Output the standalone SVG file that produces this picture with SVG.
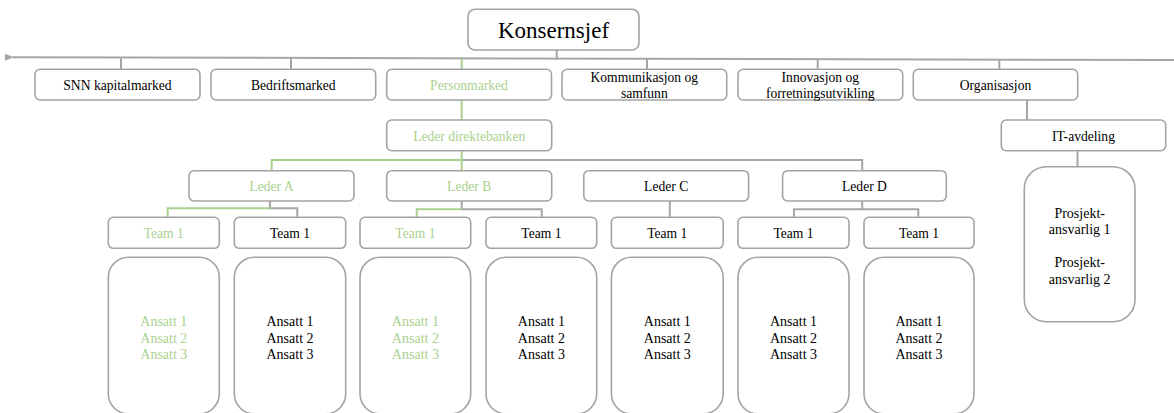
<svg xmlns="http://www.w3.org/2000/svg" width="1174" height="413" viewBox="0 0 1174 413" font-family="'Liberation Serif', Tinos, 'Times New Roman', 'DejaVu Serif', serif">
<defs>
<style>
.box{fill:#fff;stroke:#a3a3a3;stroke-width:1.6}
.t{font-family:'Liberation Serif', Tinos, 'Times New Roman', 'DejaVu Serif', serif;font-size:13.6px;fill:#000;text-anchor:middle}
.a{font-size:14px}
.g{fill:#a9d18e}
.big{font-size:23px}
.c{fill:none;stroke:#a6a6a6;stroke-width:2}
.cg{fill:none;stroke:#a9d18e;stroke-width:2}
</style>
<marker id="arr" markerWidth="10" markerHeight="8" refX="1" refY="4" orient="auto" markerUnits="userSpaceOnUse">
<path d="M0,4 L9,0.5 L9,7.5 Z" fill="#a6a6a6"/>
</marker>
</defs>
<rect width="1174" height="413" fill="#fff"/>
<g id="connectors">
<line class="c" x1="1174" y1="60" x2="13" y2="57.3" marker-end="url(#arr)"/>
<line class="c" x1="556.7" y1="50" x2="556.7" y2="60"/>
<line class="c" x1="121" y1="57.5" x2="121" y2="69.3"/>
<line class="c" x1="291" y1="58" x2="291" y2="69.3"/>
<line class="cg" x1="461.7" y1="58.5" x2="461.7" y2="69.3"/>
<line class="c" x1="647" y1="58.8" x2="647" y2="69.3"/>
<line class="c" x1="817.7" y1="59.2" x2="817.7" y2="69.3"/>
<line class="c" x1="999.3" y1="59.6" x2="999.3" y2="69.3"/>
<line class="cg" x1="461.7" y1="100" x2="461.7" y2="120"/>
<line class="c" x1="1027" y1="100" x2="1027" y2="120"/>
<line class="c" x1="1077.5" y1="150.7" x2="1077.5" y2="166.7"/>
<path class="c" d="M461.7,160 H862.2 V170.7"/>
<path class="cg" d="M461.7,150.7 V170.7 M461.7,160 H271.7 V170.7"/>
<path class="c" d="M270,201 V208.3 H297.3 V217.3"/>
<path class="cg" d="M270,208.3 H167.7 V217.3"/>
<path class="c" d="M461.7,201 V209.3 H541.7 V217.3"/>
<path class="cg" d="M461.7,209.3 H416.7 V217.3"/>
<line class="c" x1="669.8" y1="201" x2="669.8" y2="217.3"/>
<path class="c" d="M862.2,201 V209.3 M794,217.3 V209.3 H918.3 V217.3"/>
</g>
<g id="konsernsjef"><rect class="box" x="468" y="9.3" width="171" height="40.7" rx="7"/><text class="t big" x="553.5" y="38">Konsernsjef</text></g>
<g id="snn"><rect class="box" x="35" y="69.3" width="165" height="30.7" rx="5"/><text class="t" x="117.5" y="90">SNN kapitalmarked</text></g>
<g id="bedrift"><rect class="box" x="211" y="69.3" width="164.7" height="30.7" rx="5"/><text class="t" x="293.3" y="90">Bedriftsmarked</text></g>
<g id="person"><rect class="box" x="386.7" y="69.3" width="164.8" height="30.7" rx="5"/><text class="t g" x="469" y="90">Personmarked</text></g>
<g id="kommunikasjon"><rect class="box" x="562" y="69.3" width="164.7" height="30.7" rx="5"/><text class="t" x="644.3" y="82.3">Kommunikasjon og</text><text class="t" x="644.3" y="98.3">samfunn</text></g>
<g id="innovasjon"><rect class="box" x="738" y="69.3" width="164.7" height="30.7" rx="5"/><text class="t" x="820.3" y="82.3">Innovasjon og</text><text class="t" x="820.3" y="98.3">forretningsutvikling</text></g>
<g id="organisasjon"><rect class="box" x="913.3" y="69.3" width="164.4" height="30.7" rx="5"/><text class="t" x="995.5" y="90">Organisasjon</text></g>
<g id="leder-direktebanken"><rect class="box" x="386.7" y="120" width="165" height="30.7" rx="5"/><text class="t g" x="469.2" y="140.5">Leder direktebanken</text></g>
<g id="it-avdeling"><rect class="box" x="1001.3" y="120" width="164.4" height="30.7" rx="5"/><text class="t" x="1083.5" y="140.5">IT-avdeling</text></g>
<g id="prosjekt"><rect class="box" x="1024.3" y="166.7" width="110.7" height="155" rx="22"/>
<text class="t a" x="1079.7" y="218">Prosjekt-</text><text class="t a" x="1079.7" y="234">ansvarlig 1</text>
<text class="t a" x="1079.7" y="267">Prosjekt-</text><text class="t a" x="1079.7" y="283.5">ansvarlig 2</text></g>
<g id="leder-a"><rect class="box" x="189" y="170.7" width="165" height="30.3" rx="5"/><text class="t g" x="271.5" y="190.7">Leder A</text></g>
<g id="leder-b"><rect class="box" x="386.7" y="170.7" width="165" height="30.3" rx="5"/><text class="t g" x="469.2" y="190.7">Leder B</text></g>
<g id="leder-c"><rect class="box" x="583.8" y="170.7" width="164.8" height="30.3" rx="5"/><text class="t" x="666.2" y="190.7">Leder C</text></g>
<g id="leder-d"><rect class="box" x="782.6" y="170.7" width="163.7" height="30.3" rx="5"/><text class="t" x="864.5" y="190.7">Leder D</text></g>
<g id="team-a1"><rect class="box" x="108.3" y="217.3" width="111" height="31" rx="5"/><text class="t g" x="163.8" y="237.8">Team 1</text></g>
<g id="team-a2"><rect class="box" x="234.3" y="217.3" width="111.4" height="31" rx="5"/><text class="t" x="290" y="237.8">Team 1</text></g>
<g id="team-b1"><rect class="box" x="360" y="217.3" width="110.7" height="31" rx="5"/><text class="t g" x="415.4" y="237.8">Team 1</text></g>
<g id="team-b2"><rect class="box" x="486" y="217.3" width="110.7" height="31" rx="5"/><text class="t" x="541.4" y="237.8">Team 1</text></g>
<g id="team-c1"><rect class="box" x="611.4" y="217.3" width="111.8" height="31" rx="5"/><text class="t" x="667.3" y="237.8">Team 1</text></g>
<g id="team-d1"><rect class="box" x="738" y="217.3" width="111" height="31" rx="5"/><text class="t" x="793.5" y="237.8">Team 1</text></g>
<g id="team-d2"><rect class="box" x="864" y="217.3" width="110" height="31" rx="5"/><text class="t" x="919" y="237.8">Team 1</text></g>
<g id="ansatt-a1"><rect class="box" x="108.3" y="257.3" width="111" height="156.5" rx="20"/><text class="t a g" x="163.8" y="326">Ansatt 1</text><text class="t a g" x="163.8" y="342.7">Ansatt 2</text><text class="t a g" x="163.8" y="359.3">Ansatt 3</text></g>
<g id="ansatt-a2"><rect class="box" x="234.3" y="257.3" width="111.4" height="156.5" rx="20"/><text class="t a" x="290" y="326">Ansatt 1</text><text class="t a" x="290" y="342.7">Ansatt 2</text><text class="t a" x="290" y="359.3">Ansatt 3</text></g>
<g id="ansatt-b1"><rect class="box" x="360" y="257.3" width="110.7" height="156.5" rx="20"/><text class="t a g" x="415.4" y="326">Ansatt 1</text><text class="t a g" x="415.4" y="342.7">Ansatt 2</text><text class="t a g" x="415.4" y="359.3">Ansatt 3</text></g>
<g id="ansatt-b2"><rect class="box" x="486" y="257.3" width="110.7" height="156.5" rx="20"/><text class="t a" x="541.4" y="326">Ansatt 1</text><text class="t a" x="541.4" y="342.7">Ansatt 2</text><text class="t a" x="541.4" y="359.3">Ansatt 3</text></g>
<g id="ansatt-c1"><rect class="box" x="611.4" y="257.3" width="111.8" height="156.5" rx="20"/><text class="t a" x="667.3" y="326">Ansatt 1</text><text class="t a" x="667.3" y="342.7">Ansatt 2</text><text class="t a" x="667.3" y="359.3">Ansatt 3</text></g>
<g id="ansatt-d1"><rect class="box" x="738" y="257.3" width="111" height="156.5" rx="20"/><text class="t a" x="793.5" y="326">Ansatt 1</text><text class="t a" x="793.5" y="342.7">Ansatt 2</text><text class="t a" x="793.5" y="359.3">Ansatt 3</text></g>
<g id="ansatt-d2"><rect class="box" x="864" y="257.3" width="110" height="156.5" rx="20"/><text class="t a" x="919" y="326">Ansatt 1</text><text class="t a" x="919" y="342.7">Ansatt 2</text><text class="t a" x="919" y="359.3">Ansatt 3</text></g>
</svg>
